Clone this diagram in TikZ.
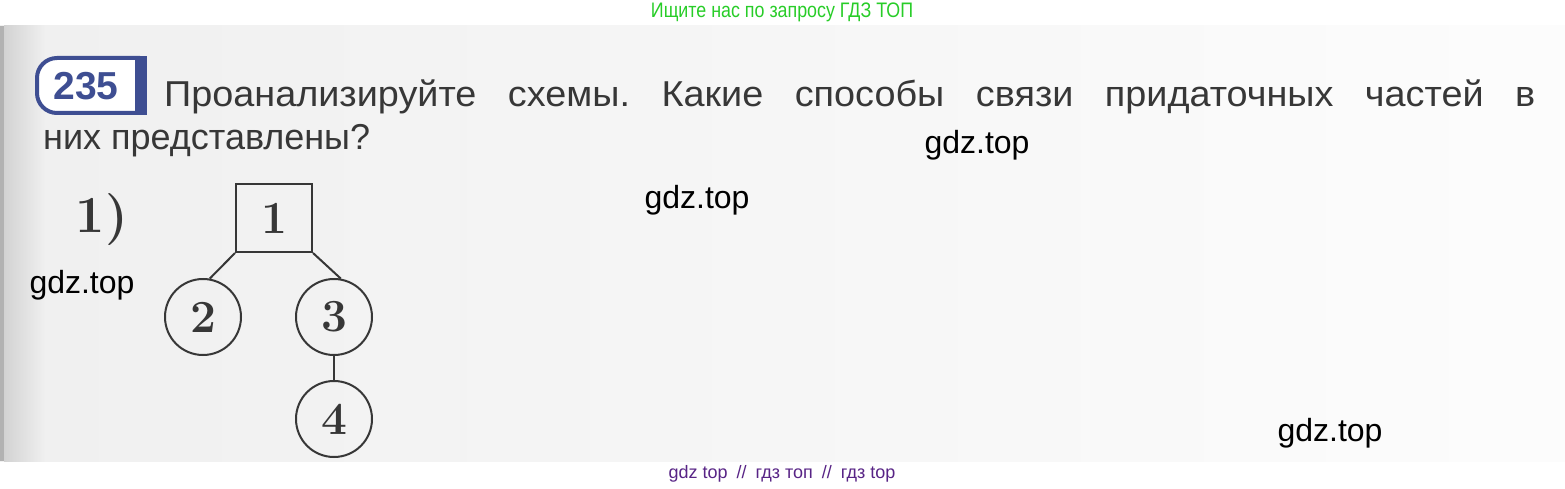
\documentclass[tikz,border=0pt]{standalone}
\usepackage{fontspec}
\setsansfont{Liberation Sans}
\newfontfamily\narrowfont[FakeStretch=0.85]{Liberation Sans}
\newfontfamily\widefont[FakeStretch=1.05]{Liberation Sans}
\usetikzlibrary{positioning}
\definecolor{inkgray}{RGB}{55,55,55}
\definecolor{badgeblue}{RGB}{62,78,146}
\definecolor{markgreen}{RGB}{40,205,40}
\definecolor{markpurple}{RGB}{88,36,134}
\frenchspacing

\begin{document}
\begin{tikzpicture}[x=1pt,y=-1pt]
\tikzstyle{wmark} = [font=\sffamily\fontsize{32}{36}\selectfont, text=black, inner sep=0]
\tikzstyle{question} = [font=\sffamily\fontsize{36}{42}\selectfont, text=inkgray, inner sep=0, anchor=base west]
\tikzstyle{mainbox} = [rectangle, minimum width=76pt, minimum height=68pt, draw=inkgray, line width=2pt, text=inkgray, font=\bfseries\fontsize{46}{46}\selectfont]
\tikzstyle{subcircle} = [circle, minimum size=76pt, inner sep=0, draw=inkgray, line width=2pt, text=inkgray, font=\bfseries\fontsize{46}{46}\selectfont]
\tikzstyle{link} = [line width=2pt, draw=inkgray]
%
\useasboundingbox (0,0) rectangle (1565,489);
\fill[white] (0,0) rectangle (1565,489);
\shade[left color=gray!12, right color=gray!2] (0,26) rectangle (1565,461);
\shade[left color=gray!35, right color=gray!12] (4,26) rectangle (45,461);
\fill[gray!60] (0,26) rectangle (4,461);
%
\node (search) [font=\narrowfont\fontsize{21}{24}\selectfont, text=markgreen, inner sep=0] at (782,12) {Ищите нас по запросу ГДЗ ТОП};
%
\draw[badgeblue, line width=4pt, rounded corners=20pt, fill=white] (140,58) -- (37,58) -- (37,113) -- (140,113);
\fill[badgeblue] (135,56) rectangle (147,115);
\node (number) [font=\sffamily\bfseries\fontsize{39}{40}\selectfont, text=badgeblue, inner sep=0] at (86,86) {235};
%
\node (line1) [question, font=\widefont\fontsize{36}{42}\selectfont] at (164,107) {\makebox[1371pt][s]{Проанализируйте схемы. Какие способы связи придаточных частей в}};
\node (line2) [question] at (43,150) {них представлены?};
%
\node (label) [font=\bfseries\fontsize{52}{52}\selectfont, text=inkgray, inner sep=0] at (102,220) {1)};
%
\node (c1) [mainbox] at (274,218) {1};
\node (c2) [subcircle, below=25pt of c1, xshift=-71pt] {2};
\node (c3) [subcircle, below=25pt of c1, xshift=60pt] {3};
\node (c4) [subcircle, below=24pt of c3] {4};
%
\draw [link] (c1.south west) -- (c2.80);
\draw [link] (c1.south east) -- (c3.80);
\draw [link] (c3) -- (c4);
%
\node (wm1) [wmark] at (977,145) {gdz.top};
\node (wm2) [wmark] at (697,200) {gdz.top};
\node (wm3) [wmark] at (82,285) {gdz.top};
\node (wm4) [wmark] at (1330,433) {gdz.top};
%
\node (footer) [font=\sffamily\fontsize{18}{20}\selectfont, text=markpurple, inner sep=0] at (782,474) {gdz top\enspace//\enspace гдз топ\enspace//\enspace гдз top};
\end{tikzpicture}
\end{document}
